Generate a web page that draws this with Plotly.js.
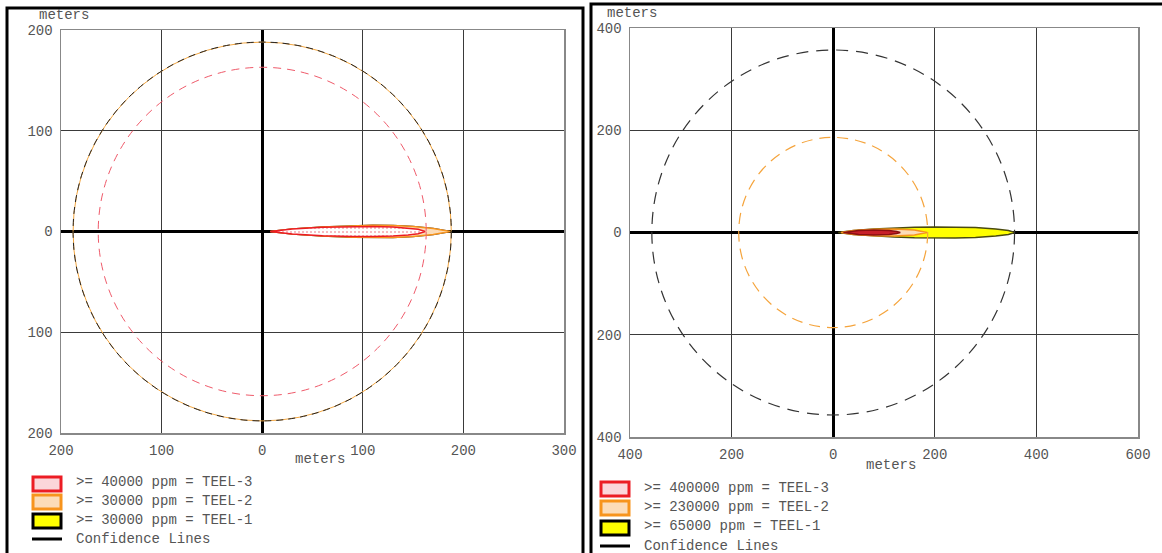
<!DOCTYPE html>
<html>
<head>
<meta charset="utf-8">
<script src="https://cdn.plot.ly/plotly-3.0.1.min.js"></script>
<style>
  html, body { margin: 0; padding: 0; background: #fff; }
  #chart { width: 1162px; height: 553px; }
</style>
</head>
<body>
<div id="chart"></div>
<script>
// ---- Left panel: threat zones (downwind distance, half-width in meters) ----
const leftTeel1X  = [8, 30, 60, 90, 110, 130, 150, 170, 187];
const leftTeel1HW = [0, 2.5, 4.5, 5.8, 6.2, 6.0, 5.0, 3.0, 0];
const leftTeel2X  = [8, 30, 60, 90, 110, 130, 150, 170, 187];
const leftTeel2HW = [0, 2.5, 4.5, 5.8, 6.2, 6.0, 5.0, 3.0, 0];
const leftTeel3X  = [8, 30, 60, 90, 110, 130, 145, 155, 162];
const leftTeel3HW = [0, 2.4, 4.2, 5.0, 5.0, 4.5, 3.5, 2.2, 0];
// confidence-line radii: TEEL-3, TEEL-2, TEEL-1
const leftConfRadius = [163, 188, 188];
const leftLegendText = [">= 40000 ppm = TEEL-3", ">= 30000 ppm = TEEL-2", ">= 30000 ppm = TEEL-1", "Confidence Lines"];
const leftXTicks = [-200, -100, 0, 100, 200, 300];
const leftXTickText = ["200", "100", "0", "100", "200", "300"];
const leftYTicks = [-200, -100, 0, 100, 200];
const leftYTickText = ["200", "100", "0", "100", "200"];

// ---- Right panel ----
const rightTeel1X  = [10, 40, 80, 120, 160, 200, 240, 280, 320, 345, 357];
const rightTeel1HW = [0, 4, 7, 9, 10.5, 11, 11, 10, 7, 4, 0];
const rightTeel2X  = [15, 40, 80, 120, 160, 185];
const rightTeel2HW = [0, 4, 6.5, 7, 5, 0];
const rightTeel3X  = [20, 50, 80, 110, 125, 132];
const rightTeel3HW = [0, 4, 5, 4, 2, 0];
// confidence-line radii: TEEL-2, TEEL-1
const rightConfRadius = [186, 357];
const rightLegendText = [">= 400000 ppm = TEEL-3", ">= 230000 ppm = TEEL-2", ">= 65000 ppm = TEEL-1", "Confidence Lines"];
const rightXTicks = [-400, -200, 0, 200, 400, 600];
const rightXTickText = ["400", "200", "0", "200", "400", "600"];
const rightYTicks = [-400, -200, 0, 200, 400];
const rightYTickText = ["400", "200", "0", "200", "400"];

// ---- helpers ----
const W = 1162, H = 553;
const px = x => x / W;
const py = y => 1 - y / H;
const FONT = "Liberation Mono, Courier New, monospace";
const TXT = "#555";

const RED = "#ec1c24", ORANGE = "#f7941d", YEL = "#ffff00";

function plume(xs, hw, xa, ya, line, fill, pattern) {
  const X = xs.concat(xs.slice().reverse());
  const Y = hw.concat(hw.slice().reverse().map(v => -v));
  const t = {
    x: X, y: Y, xaxis: xa, yaxis: ya, type: "scatter", mode: "lines",
    fill: "toself", fillcolor: fill, line: { color: line, width: 1.5 },
    hoverinfo: "skip", showlegend: false
  };
  if (pattern) t.fillpattern = pattern;
  return t;
}

const traces = [
  plume(leftTeel1X, leftTeel1HW, "x", "y", "#333", YEL),
  plume(leftTeel2X, leftTeel2HW, "x", "y", ORANGE, "#fcdcb8"),
  plume(leftTeel3X, leftTeel3HW, "x", "y", RED, "#fdecee",
        { shape: ".", fgcolor: "#f4a6ae", bgcolor: "#ffffff", size: 4, solidity: 0.2 }),
  plume(rightTeel1X, rightTeel1HW, "x2", "y2", "#4a4a10", YEL),
  plume(rightTeel2X, rightTeel2HW, "x2", "y2", ORANGE, "#fcdcb8"),
  plume(rightTeel3X, rightTeel3HW, "x2", "y2", "#8b1010", "#c8202a")
];

function axis(domain, range, tickvals, ticktext, anchor, standoff) {
  return {
    domain: domain, range: range, anchor: anchor,
    tickvals: tickvals, ticktext: ticktext, ticks: "",
    showgrid: true, gridcolor: "#3a3a3a", gridwidth: 1,
    zeroline: true, zerolinecolor: "#000", zerolinewidth: 3,
    showline: true, mirror: true, linecolor: "#888", linewidth: 1.5,
    tickfont: { family: FONT, size: 14, color: TXT },
    ticklabelstandoff: standoff,
    layer: "above traces", fixedrange: true
  };
}

const shapes = [];
const annotations = [];

// confidence circles
function circle(r, xr, yr, color, dash, width) {
  shapes.push({ type: "circle", xref: xr, yref: yr, x0: -r, x1: r, y0: -r, y1: r,
                line: { color: color, width: width || 1, dash: dash }, layer: "above" });
}
circle(leftConfRadius[0], "x", "y", "#ef5a6a", "8px,6px");
circle(leftConfRadius[1], "x", "y", "#f3a640", "solid");
circle(leftConfRadius[2], "x", "y", "#222", "7px,5px");
circle(rightConfRadius[0], "x2", "y2", "#f5a43c", "11px,7px", 1.2);
circle(rightConfRadius[1], "x2", "y2", "#333", "12px,8px", 1.2);

// panel frames
shapes.push({ type: "rect", xref: "paper", yref: "paper", x0: px(7), x1: px(583), y0: py(8), y1: py(570),
              line: { color: "#000", width: 3 }, fillcolor: "rgba(0,0,0,0)", layer: "below" });
shapes.push({ type: "rect", xref: "paper", yref: "paper", x0: px(591), x1: px(1175), y0: py(4), y1: py(570),
              line: { color: "#000", width: 3 }, fillcolor: "rgba(0,0,0,0)", layer: "below" });

// legends
function legend(texts, x0, rows, swatchTops) {
  const sw = [
    { line: RED, fill: "#fbd6da" },
    { line: ORANGE, fill: "#fcdcb8" },
    { line: "#000", fill: YEL }
  ];
  for (let i = 0; i < 3; i++) {
    shapes.push({ type: "rect", xref: "paper", yref: "paper",
      x0: px(x0 + 1), x1: px(x0 + 29), y0: py(swatchTops[i]), y1: py(swatchTops[i] + 14),
      line: { color: sw[i].line, width: 3 }, fillcolor: sw[i].fill });
  }
  shapes.push({ type: "line", xref: "paper", yref: "paper",
    x0: px(x0), x1: px(x0 + 30), y0: py(rows[3]), y1: py(rows[3]),
    line: { color: "#000", width: 3 } });
  for (let i = 0; i < 4; i++) {
    annotations.push({ xref: "paper", yref: "paper", x: px(x0 + 42), y: py(rows[i]),
      xanchor: "left", yanchor: "middle", showarrow: false, text: texts[i],
      font: { family: FONT, size: 14, color: TXT } });
  }
}
legend(leftLegendText, 32, [482, 501, 520, 539], [477, 495, 514]);
legend(rightLegendText, 600, [488, 507, 526, 546], [482, 501, 521]);

// axis unit labels
function label(x, y, t) {
  annotations.push({ xref: "paper", yref: "paper", x: px(x), y: py(y), xanchor: "center",
    yanchor: "middle", showarrow: false, text: t, font: { family: FONT, size: 14, color: TXT } });
}
label(64, 15, "meters");
label(320, 459, "meters");
label(632, 13, "meters");
label(891, 465, "meters");

const layout = {
  width: W, height: H,
  margin: { l: 0, r: 0, t: 0, b: 0, pad: 0 },
  paper_bgcolor: "#fff", plot_bgcolor: "#fff",
  showlegend: false, hovermode: false,
  xaxis:  axis([px(61), px(564)],  [-200, 300], leftXTicks, leftXTickText, "y", 4),
  yaxis:  axis([py(433), py(30)],  [-200, 200], leftYTicks, leftYTickText, "x", 4),
  xaxis2: axis([px(630), px(1138)], [-400, 600], rightXTicks, rightXTickText, "y2", 4),
  yaxis2: axis([py(437), py(28)],  [-400, 400], rightYTicks, rightYTickText, "x2", 4),
  shapes: shapes, annotations: annotations
};

Plotly.newPlot("chart", traces, layout, { staticPlot: true, displayModeBar: false });
</script>
</body>
</html>
